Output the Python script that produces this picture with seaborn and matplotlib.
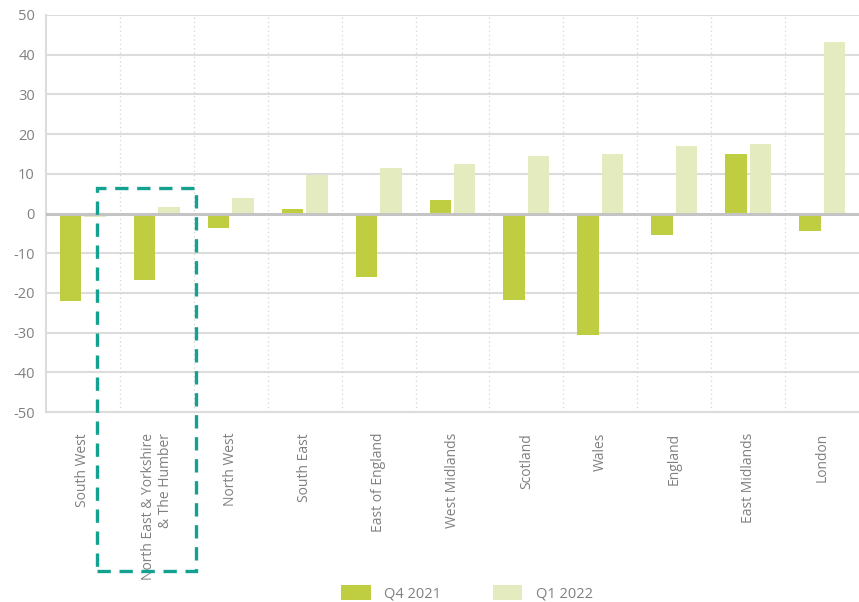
import matplotlib
matplotlib.use("Agg")
import matplotlib.pyplot as plt
from matplotlib.patches import Rectangle, Patch
import seaborn as sns
import pandas as pd

regions = ["South West", "North East & Yorkshire\n& The Humber", "North West", "South East",
           "East of England", "West Midlands", "Scotland", "Wales", "England",
           "East Midlands", "London"]
q4_2021 = [-22.0, -16.8, -3.7, 1.2, -15.9, 3.5, -21.7, -30.7, -5.5, 15.0, -4.3]
q1_2022 = [-0.8, 1.6, 3.8, 9.8, 11.4, 12.4, 14.5, 15.0, 17.0, 17.5, 43.1]
series = ["Q4 2021", "Q1 2022"]
yticks = list(range(-50, 51, 10))

df = pd.DataFrame({
    "region": regions * 2,
    "value": q4_2021 + q1_2022,
    "period": [series[0]] * len(regions) + [series[1]] * len(regions),
})

sns.set_style("white")
plt.rcParams["font.family"] = ["Open Sans", "DejaVu Sans"]

text_grey = "#808080"
palette = {series[0]: "#bfce40", series[1]: "#e4ebbf"}

fig = plt.figure(figsize=(8.59, 6.02), dpi=100)
ax = fig.add_axes([46 / 859, 1 - 412 / 602, 1 - 46 / 859, (412 - 15) / 602])

sns.barplot(data=df, x="region", y="value", hue="period", order=regions,
            hue_order=series, palette=palette, saturation=1, width=0.66, gap=0.12,
            edgecolor="none", linewidth=0, legend=False, ax=ax, zorder=3)

ax.set_ylim(-50, 50)
ax.set_xlim(-0.5, len(regions) - 0.5)
ax.set_yticks(yticks)
ax.set_yticklabels([str(v) for v in yticks], color=text_grey, fontsize=10.5)
ax.set_xlabel("")
ax.set_ylabel("")

# horizontal grid, stronger zero line
for v in yticks:
    if v == 0:
        ax.axhline(v, color="#c4c4c4", lw=2.2, zorder=4)
    else:
        ax.axhline(v, color="#dcdcdc", lw=1.5, zorder=1)

# dotted separators between regions
for i in range(1, len(regions)):
    ax.axvline(i - 0.5, color="#d4d4d4", lw=0.9, ls=(0, (1, 2.5)), zorder=1)

for side in ["top", "right"]:
    ax.spines[side].set_visible(False)
for side in ["left", "bottom"]:
    ax.spines[side].set_color("#dcdcdc")
    ax.spines[side].set_linewidth(1.5)

ax.tick_params(axis="y", length=0, pad=8)
ax.set_xticks(range(len(regions)))
ax.set_xticklabels(regions, rotation=90, color=text_grey, fontsize=10,
                   va="top", ha="center", multialignment="right")
ax.tick_params(axis="x", length=0, pad=15)

# dashed highlight around North East & Yorkshire
ax.add_patch(Rectangle((0.185, -90.0), 1.53 - 0.185, 6.3 + 90.0, fill=False,
                       edgecolor="#14a190", lw=2.4, ls=(0, (4, 2.6)),
                       clip_on=False, zorder=6))

handles = [Patch(facecolor=palette[s], edgecolor="none", label=s) for s in series]
fig.legend(handles=handles, loc="center", bbox_to_anchor=(467 / 859, 1 - 593 / 602),
           ncol=2, frameon=False, fontsize=10.5, labelcolor=text_grey,
           handlelength=2.0, handleheight=1.2, handletextpad=0.9, columnspacing=3.6)

fig.savefig("out.png", dpi=100)
